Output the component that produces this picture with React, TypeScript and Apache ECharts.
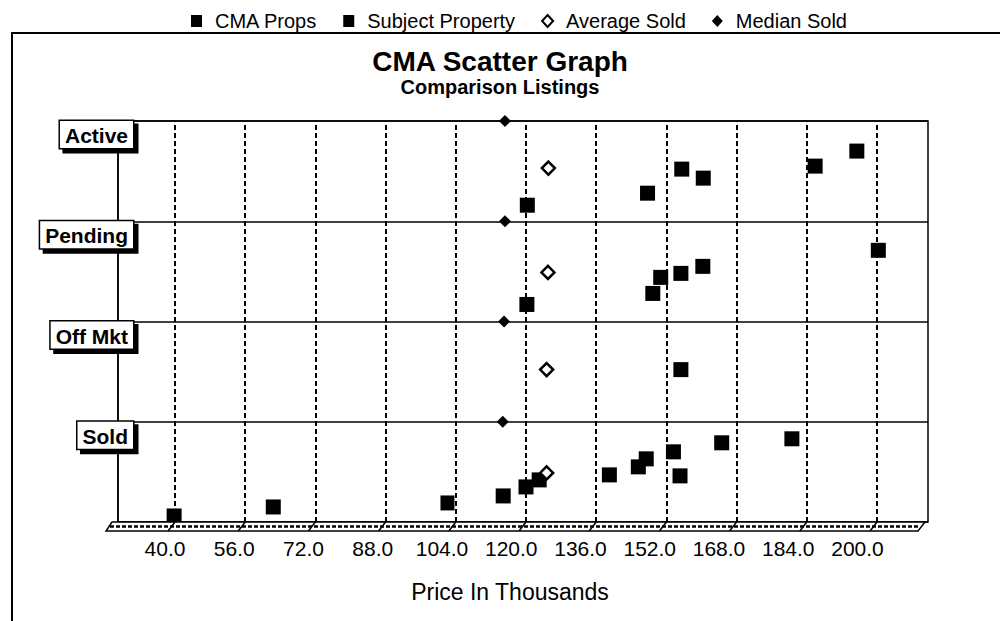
import React, { useEffect, useRef } from "react";
import * as echarts from "echarts";

// ---- data ----
const statusLabels = ["", "Sold", "Off Mkt", "Pending", "Active"];
const priceTicks = [40, 56, 72, 88, 104, 120, 136, 152, 168, 184, 200];

// [price in thousands, level (band + depth offset)]
const cmaProps = [
  [120.3, 3.16], [147.7, 3.28], [155.5, 3.52], [160.4, 3.43], [185.9, 3.55], [195.4, 3.7],
  [120.2, 2.17], [148.9, 2.28], [150.7, 2.44], [155.3, 2.48], [160.3, 2.55], [200.3, 2.71],
  [155.3, 1.52],
  [39.8, 0.06], [62.4, 0.15], [114.8, 0.26], [120.0, 0.35], [123.0, 0.42], [139.0, 0.47],
  [145.6, 0.55], [147.4, 0.63], [153.6, 0.7], [155.1, 0.46], [164.6, 0.79], [180.6, 0.83],
];
const subjectProperty = [[102.1, 0.19]];
const averageSold = [[125.1, 3.53], [125.0, 2.49], [124.7, 1.52], [124.7, 0.49]];
const medianSold = [[115.2, 4.0], [115.2, 3.0], [115.0, 2.0], [114.7, 1.0]];

export default function App() {
  const ref = useRef<HTMLDivElement>(null);

  useEffect(() => {
    const chart = echarts.init(ref.current as HTMLDivElement, null, { renderer: "svg" });
    const font = "'Liberation Sans', Arial, Helvetica, sans-serif";

    const option: any = {
      animation: false,
      backgroundColor: "#fff",
      title: {
        text: "CMA Scatter Graph",
        subtext: "Comparison Listings",
        left: "center",
        top: 42,
        itemGap: 2,
        textStyle: { fontFamily: font, fontSize: 28, fontWeight: "bold", color: "#000" },
        subtextStyle: { fontFamily: font, fontSize: 20, fontWeight: "bold", color: "#000" },
      },
      legend: {
        left: 186,
        top: 6,
        itemWidth: 11,
        itemHeight: 12,
        itemGap: 26,
        textStyle: { fontFamily: font, fontSize: 20, color: "#000", padding: [0, 0, 0, 8] },
        data: ["CMA Props", "Subject Property", "Average Sold", "Median Sold"],
      },
      grid: {
        left: 118,
        right: 72,
        top: 121,
        bottom: 99,
        show: true,
        borderColor: "#000",
        borderWidth: 1.5,
        backgroundColor: "transparent",
      },
      xAxis: [
        {
          type: "value",
          min: 27.01,
          max: 211.62,
          axisLine: { show: false },
          axisTick: { show: false },
          axisLabel: { show: false },
          splitLine: { show: false },
        },
        {
          type: "value",
          position: "bottom",
          min: 29.14,
          max: 216.29,
          axisLine: { show: false },
          axisTick: { show: false },
          splitLine: { show: false },
          axisLabel: {
            customValues: priceTicks,
            formatter: (v: number) => v.toFixed(1),
            fontFamily: font,
            fontSize: 21,
            color: "#000",
            margin: 16,
          },
          name: "Price In Thousands",
          nameLocation: "middle",
          nameGap: 58,
          nameTextStyle: { fontFamily: font, fontSize: 23, color: "#000", padding: [0, 26, 0, 0] },
        },
      ],
      yAxis: {
        type: "value",
        min: 0,
        max: 4,
        interval: 1,
        axisLine: { show: true, lineStyle: { color: "#000", width: 1.5 } },
        axisTick: { show: false },
        splitLine: { show: true, lineStyle: { color: "#000", width: 1.5, type: "solid" } },
        axisLabel: {
          showMinLabel: false,
          formatter: (v: number) => statusLabels[v] || "",
          margin: -15,
          align: "right",
          verticalAlign: "top",
          fontFamily: font,
          fontSize: 21,
          fontWeight: "bold",
          color: "#000",
          backgroundColor: "#fff",
          borderColor: "#000",
          borderWidth: 1.5,
          padding: [4, 5, 2, 5],
          shadowColor: "#000",
          shadowOffsetX: 4,
          shadowOffsetY: 4,
          shadowBlur: 0,
        },
      },
      series: [
        {
          name: "CMA Props",
          type: "scatter",
          xAxisIndex: 0,
          symbol: "rect",
          symbolSize: 15,
          itemStyle: { color: "#000", opacity: 1 },
          data: cmaProps,
          z: 3,
          markLine: {
            silent: true,
            symbol: "none",
            label: { show: false },
            lineStyle: { color: "#000", width: 2, type: [5, 3], opacity: 1 },
            data: priceTicks.map((t) => ({ xAxis: t })),
            z: 1,
          },
        },
        {
          name: "Subject Property",
          type: "scatter",
          xAxisIndex: 0,
          symbol: "rect",
          symbolSize: [14, 15],
          itemStyle: { color: "#000", opacity: 1 },
          data: subjectProperty,
          z: 3,
        },
        {
          name: "Average Sold",
          type: "scatter",
          xAxisIndex: 0,
          symbol: "diamond",
          symbolSize: 13,
          itemStyle: { color: "#fff", borderColor: "#000", borderWidth: 2.5, opacity: 1 },
          data: averageSold,
          z: 4,
        },
        {
          name: "Median Sold",
          type: "scatter",
          xAxisIndex: 0,
          symbol: "diamond",
          symbolSize: 12,
          itemStyle: { color: "#000", opacity: 1 },
          data: medianSold,
          z: 4,
        },
      ],
    };

    chart.setOption(option);

    // decorative 3D floor and frame, positioned from the chart's own scales
    const px = (x: number, y: number) =>
      chart.convertToPixel({ xAxisIndex: 0, yAxisIndex: 0 }, [x, y]) as number[];
    const left = px(27.01, 0);
    const right = px(211.62, 0);
    const fy = left[1];
    const depth = 9;
    const graphics: any[] = [
      {
        type: "polyline",
        shape: { points: [[12, 621], [12, 33], [1000, 33]] },
        style: { stroke: "#000", lineWidth: 2, fill: null },
        z: 10,
      },
      {
        type: "polygon",
        shape: {
          points: [
            [left[0] - 6, fy],
            [right[0] - 3, fy],
            [right[0] - 10, fy + depth],
            [left[0] - 12, fy + depth],
          ],
        },
        style: { fill: "#fff", stroke: "#000", lineWidth: 1.5 },
        z: 10,
      },
      {
        type: "line",
        shape: { x1: left[0] - 8, y1: fy + depth / 2, x2: right[0] - 8, y2: fy + depth / 2 },
        style: { stroke: "#000", lineWidth: 2.5, lineDash: [4, 2] },
        z: 10,
      },
    ];
    priceTicks.forEach((t) => {
      const p = px(t, 0);
      graphics.push({
        type: "line",
        shape: { x1: p[0], y1: fy, x2: p[0] - 7, y2: fy + depth },
        style: { stroke: "#000", lineWidth: 1.5 },
        z: 11,
      });
    });
    chart.setOption({ graphic: graphics });

    return () => chart.dispose();
  }, []);

  return (
    <div
      ref={ref}
      style={{ position: "fixed", left: 0, top: 0, width: 1000, height: 621, background: "#fff" }}
    />
  );
}
